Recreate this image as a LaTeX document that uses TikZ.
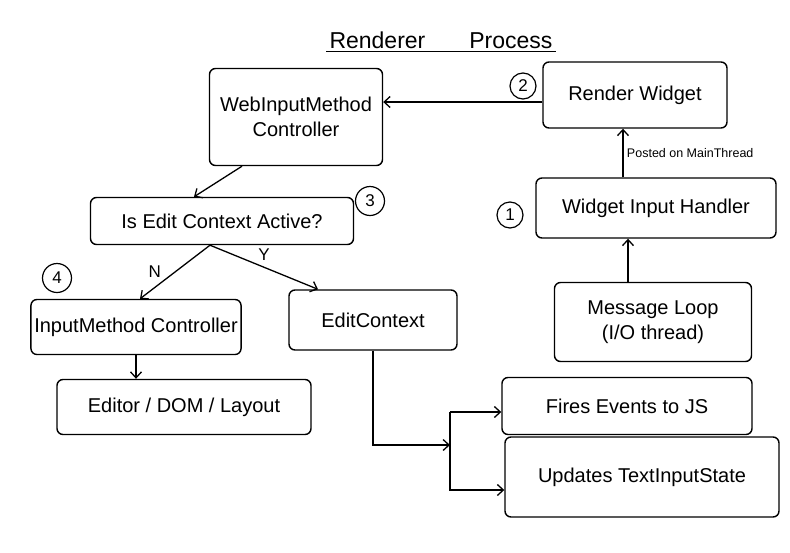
\documentclass[tikz,border=0pt]{standalone}
\usepackage{fontspec}
\setmainfont{Liberation Sans}
\usepackage{tikz}
\usetikzlibrary{arrows.meta,positioning}

\begin{document}
\begin{tikzpicture}[
    x=1pt, y=-1pt,
    box/.style={draw, rounded corners=6pt, line width=1.4pt, align=center,
                font=\fontsize{20}{25}\selectfont},
    num/.style={draw, circle, line width=1.2pt, inner sep=1pt, minimum size=26pt,
                font=\fontsize{17}{17}\selectfont},
    arr/.style={-{Straight Barb[length=6pt, width=11pt]}, line width=1.3pt}
]
\useasboundingbox (0,0) rectangle (790,552);

% Title
\node[font=\fontsize{23}{27}\selectfont, inner sep=3pt] (title) at (441,40)
    {Renderer\hspace{44pt}Process};
\draw[line width=1.3pt] (title.south west) -- (title.south east);

% Boxes
\node[box, minimum width=173, minimum height=97] (webimc) at (296,117)
    {WebInputMethod\\Controller};
\node[box, minimum width=184, minimum height=66] (rwidget) at (635,95) {Render Widget};
\node[box, minimum width=240, minimum height=60] (wih) at (656,208) {Widget Input Handler};
\node[box, minimum width=197, minimum height=79] (msgloop) at (653,322)
    {Message Loop\\(I/O thread)};
\node[box, minimum width=263, minimum height=47] (ieca) at (222,221) {Is Edit Context Active?};
\node[box, minimum width=205, minimum height=55] (imc) at (136,327) {InputMethod Controller};
\node[box, minimum width=168, minimum height=60] (ectx) at (373,320) {EditContext};
\node[box, minimum width=254, minimum height=55] (editor) at (184,407) {Editor / DOM / Layout};
\node[box, minimum width=250, minimum height=57] (fires) at (627,406) {Fires Events to JS};
\node[box, minimum width=274, minimum height=80] (updates) at (642,477) {Updates TextInputState};

% Step numbers
\node[num] (n1) at (510,215) {1};
\node[num] (n2) at (523,86) {2};
\node[num, minimum size=29pt] (n3) at (370,201) {3};
\node[num, minimum size=29pt] (n4) at (57,278) {4};

% Connectors
\draw[arr] ([xshift=-25pt]msgloop.north) -- ([xshift=-25pt]msgloop.north |- wih.south);
\draw[arr] ([xshift=-33pt]wih.north) -- ([xshift=-33pt]wih.north |- rwidget.south)
    node[midway, right, font=\fontsize{12.5}{14}\selectfont] (posted) {Posted on MainThread};
\draw[arr] ([yshift=-7pt]rwidget.west) -- ([yshift=-7pt]rwidget.west -| webimc.east);
\draw[arr] ([xshift=-54pt]webimc.south) -- ([xshift=-28pt]ieca.north);
\draw[arr] ([xshift=-12pt]ieca.south) -- ([xshift=4pt]imc.north)
    node[midway, left=10pt, font=\fontsize{17}{17}\selectfont] (no) {N};
\draw[arr] ([xshift=-12pt]ieca.south) -- ([xshift=-55pt]ectx.north)
    node[midway, above=3pt, font=\fontsize{17}{17}\selectfont] (yes) {Y};
\draw[arr] (imc.south) -- (imc.south |- editor.north);

% EditContext fan-out
\coordinate (split) at (450,445);
\draw[arr] (ectx.south) |- (split);
\draw[arr] ([yshift=-6pt]split |- fires.west) -- ([yshift=-6pt]fires.west);
\draw[arr] ([yshift=-6pt]split |- fires.west) |- ([yshift=-13pt]updates.west);

\end{tikzpicture}
\end{document}
